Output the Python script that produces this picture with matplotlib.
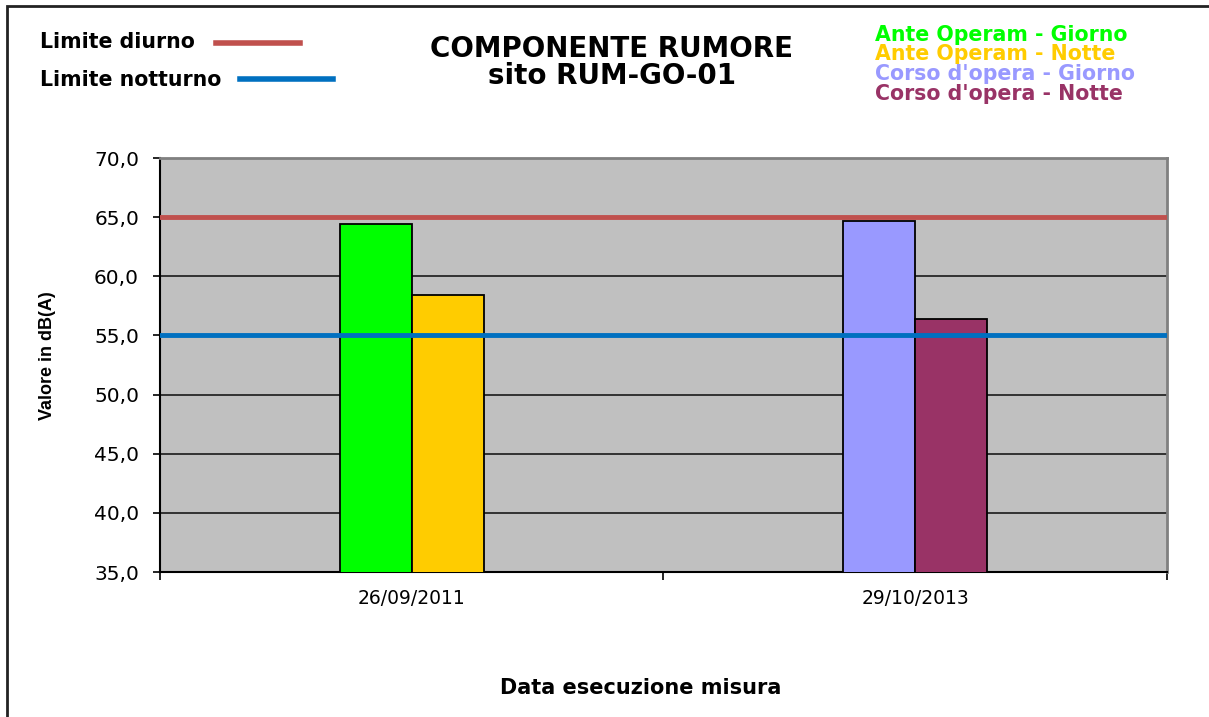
import numpy as np
import matplotlib.pyplot as plt
from matplotlib.patches import Rectangle
from matplotlib.lines import Line2D

plt.rcParams['font.family'] = ['DejaVu Sans']

# dati
date = ['26/09/2011', '29/10/2013']
ante_giorno = [64.4, np.nan]
ante_notte = [58.4, np.nan]
corso_giorno = [np.nan, 64.7]
corso_notte = [np.nan, 56.4]
limite_diurno = 65.0
limite_notturno = 55.0
serie = ['Ante Operam - Giorno', 'Ante Operam - Notte',
         "Corso d'opera - Giorno", "Corso d'opera - Notte"]
colori = ['#00FF00', '#FFCC00', '#9999FF', '#993366']
yticks = [35, 40, 45, 50, 55, 60, 65, 70]

fig = plt.figure(figsize=(12.09, 7.17), dpi=100)
ax = fig.add_axes([0.1323, 0.2022, 0.8330, 0.5774])
ax.set_facecolor('#C0C0C0')

x = np.arange(len(date))
w = 0.143
valori = [ante_giorno, ante_notte, corso_giorno, corso_notte]
offs = [-w / 2, w / 2, -w / 2, w / 2]
for v, o, c in zip(valori, offs, colori):
    ax.bar(x + o, v, w, color=c, edgecolor='black', linewidth=1.3, zorder=3)

for yv in yticks[1:-1]:
    ax.axhline(yv, color='#1a1a1a', linewidth=1.2, zorder=1)
ax.axhline(limite_diurno, color='#C0504D', linewidth=3.5, zorder=4)
ax.axhline(limite_notturno, color='#0070C0', linewidth=3.5, zorder=4)

ax.set_xlim(-0.5, 1.5)
ax.set_ylim(35, 70)
ax.set_yticks(yticks)
ax.set_yticklabels([f'{t:.1f}'.replace('.', ',') for t in yticks], fontsize=14.5)
ax.set_xticks(x)
ax.set_xticklabels(date, fontsize=13.5)
ax.set_xticks([-0.5, 0.5, 1.5], minor=True)
ax.tick_params(axis='x', which='major', length=0, pad=12)
ax.tick_params(axis='x', which='minor', length=6, width=1.2, direction='out')
ax.tick_params(axis='y', length=5, width=1.2, direction='out', pad=10)
for s in ['left', 'bottom']:
    ax.spines[s].set_color('black')
    ax.spines[s].set_linewidth(1.5)
for s in ['top', 'right']:
    ax.spines[s].set_color('#808080')
    ax.spines[s].set_linewidth(2)

# etichette assi
fig.text(48 / 1209, 1 - 356 / 717, 'Valore in dB(A)', fontsize=13,
         fontweight='bold', rotation=90, ha='center', va='center',
         family=['Liberation Sans', 'DejaVu Sans'])
fig.text(0.530, 1 - 688 / 717, 'Data esecuzione misura', fontsize=15,
         fontweight='bold', ha='center', va='center')

# titolo
fig.text(0.506, 1 - 49 / 717, 'COMPONENTE RUMORE', fontsize=20,
         fontweight='bold', ha='center', va='center')
fig.text(0.506, 1 - 76 / 717, 'sito RUM-GO-01', fontsize=20,
         fontweight='bold', ha='center', va='center')

# legenda limiti
fig.text(40 / 1209, 1 - 42 / 717, 'Limite diurno', fontsize=14.8,
         fontweight='bold', va='center')
fig.text(40 / 1209, 1 - 80 / 717, 'Limite notturno', fontsize=14.8,
         fontweight='bold', va='center')
fig.add_artist(Line2D([216 / 1209, 300 / 1209], [1 - 43 / 717] * 2,
                      color='#C0504D', linewidth=4))
fig.add_artist(Line2D([240 / 1209, 333 / 1209], [1 - 79 / 717] * 2,
                      color='#0070C0', linewidth=4))

# legenda serie
ys = [35, 54, 74, 94]
for s, c, yy in zip(serie, colori, ys):
    fig.text(875 / 1209, 1 - yy / 717, s, fontsize=14.8, fontweight='bold',
             color=c, va='center')

# cornice
fig.add_artist(Rectangle((7 / 1209, -0.05), 1.1, 1 - 6 / 717 + 0.05,
                         transform=fig.transFigure, fill=False,
                         edgecolor='#222222', linewidth=2))

fig.savefig('out.png', dpi=100)
